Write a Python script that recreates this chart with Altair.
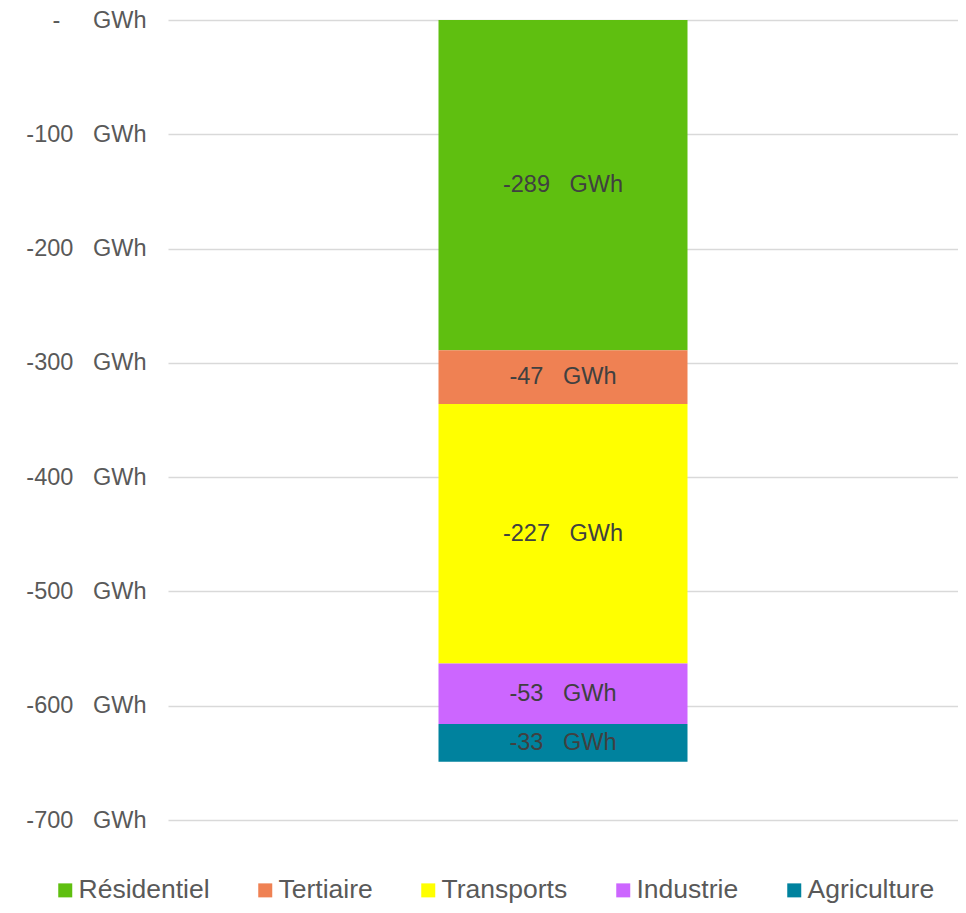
import altair as alt
import pandas as pd

sectors = ["Résidentiel", "Tertiaire", "Transports", "Industrie", "Agriculture"]
values = [-289, -47, -227, -53, -33]
colors = ["#5FBF10", "#EF8153", "#FFFF00", "#CC66FF", "#00829E"]
tick_values = [0, -100, -200, -300, -400, -500, -600, -700]

df = pd.DataFrame({
    "cat": ["Total"] * len(sectors),
    "sector": sectors,
    "value": values,
    "order": list(range(len(sectors))),
})

NB = "\u00a0"
font = "Liberation Sans"

base = alt.Chart(df)

y_enc = alt.Y(
    "value:Q",
    stack="zero",
    scale=alt.Scale(domain=[-700, 0], nice=False),
    axis=alt.Axis(
        values=tick_values,
        title=None,
        domain=False,
        ticks=False,
        labelFont=font,
        labelFontSize=23.5,
        labelColor="#595959",
        labelPadding=22,
        gridColor="#D9D9D9",
        gridWidth=1.3,
        labelExpr=f"datum.value == 0 ? '-{NB*5}GWh' : (datum.value + '') + '{NB*3}GWh'",
    ),
)

bars = base.mark_bar(size=249).encode(
    x=alt.X("cat:N", axis=None),
    y=y_enc,
    color=alt.Color(
        "sector:N",
        scale=alt.Scale(domain=sectors, range=colors),
        sort=sectors,
        legend=alt.Legend(
            title=None,
            orient="none",
            legendX=-116,
            legendY=857,
            direction="horizontal",
            columns=5,
            columnPadding=42,
            symbolType="square",
            symbolSize=196,
            symbolStrokeWidth=0,
            labelFont=font,
            labelFontSize=26.5,
            labelColor="#595959",
            labelOffset=0,
        ),
    ),
    order=alt.Order("order:Q"),
)

labels = base.transform_stack(
    stack="value", groupby=["cat"], as_=["v0", "v1"], sort=[alt.SortField("order")]
).transform_calculate(
    mid="(datum.v0 + datum.v1) / 2",
    lab=f"(datum.value + '') + '{NB*3}GWh'",
).mark_text(font=font, fontSize=23.5, color="#404040").encode(
    x=alt.X("cat:N", axis=None),
    y=alt.Y("mid:Q", scale=alt.Scale(domain=[-700, 0], nice=False)),
    text="lab:N",
)

chart = alt.layer(bars, labels).properties(
    width=790,
    height=800,
    autosize=alt.AutoSizeParams(type="none"),
    padding={"left": 160, "top": 12, "right": 0, "bottom": 85},
).configure_view(stroke=None)

chart.save("out.html", embed_options={"renderer": "svg", "actions": False})
